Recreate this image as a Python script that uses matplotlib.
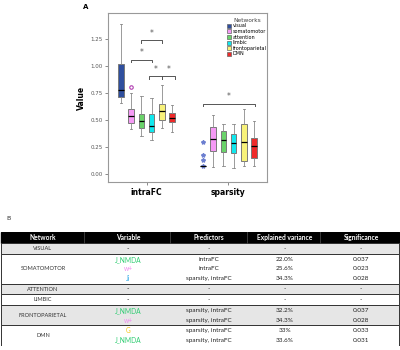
import matplotlib.pyplot as plt
from matplotlib.patches import Patch, Rectangle

networks = ['visual', 'somatomotor', 'attention', 'limbic', 'frontoparietal', 'DMN']
colors = ['#2f4f9e', '#f59af5', '#6ad36a', '#10e8ee', '#f8f27a', '#ee2a2a']
groups = ['intraFC', 'sparsity']

# box stats: whisker low, q1, median, q3, whisker high
intra_lo = [0.66, 0.42, 0.355, 0.31, 0.43, 0.385]
intra_q1 = [0.713, 0.475, 0.423, 0.392, 0.497, 0.481]
intra_med = [0.775, 0.537, 0.494, 0.448, 0.586, 0.515]
intra_q3 = [1.015, 0.605, 0.559, 0.559, 0.651, 0.568]
intra_hi = [1.39, 0.753, 0.722, 0.70, 0.827, 0.642]
intra_out = [[], [0.805], [], [], [], []]

spars_lo = [0.077, 0.065, 0.071, 0.059, 0.074, 0.071]
spars_q1 = [0.077, 0.216, 0.204, 0.194, 0.12, 0.148]
spars_med = [0.077, 0.327, 0.312, 0.29, 0.30, 0.256]
spars_q3 = [0.077, 0.435, 0.395, 0.373, 0.46, 0.33]
spars_hi = [0.077, 0.549, 0.466, 0.466, 0.605, 0.49]
spars_out = [[0.30, 0.18, 0.127, 0.077], [], [], [], [], []]

# significance brackets: group, left box index, right box index, height
brackets = [(0, 2.0, 4.0, 1.238), (0, 1.0, 3.0, 1.059),
            (0, 2.7, 4.0, 0.904), (0, 4.0, 5.3, 0.904),
            (1, 0.0, 5.1, 0.651)]

# table B
tab_header = ['Network', 'Variable', 'Predictors', 'Explained variance', 'Significance']
tab_network = ['VISUAL', 'SOMATOMOTOR', 'ATTENTION', 'LIMBIC', 'FRONTOPARIETAL', 'DMN']
tab_variable = [['-'], ['J_NMDA', 'w+', 'Ji'], ['-'], ['-'], ['J_NMDA', 'w+'], ['G', 'J_NMDA']]
tab_predictors = [['-'], ['intraFC', 'intraFC', 'sparsity, intraFC'], ['-'], ['-'],
                  ['sparsity, intraFC', 'sparsity, intraFC'],
                  ['sparsity, intraFC', 'sparsity, intraFC']]
tab_variance = [['-'], ['22.0%', '25.6%', '34.3%'], ['-'], ['-'],
                ['32.2%', '34.3%'], ['33%', '33.6%']]
tab_signif = [['-'], ['0.037', '0.023', '0.028'], ['-'], ['-'],
              ['0.037', '0.028'], ['0.033', '0.031']]
tab_shaded = [True, False, True, False, True, False]
var_colors = {'J_NMDA': '#2ecc71', 'w+': '#f08cf0', 'Ji': '#3aaee8', 'G': '#f5c518', '-': '#333333'}

fig = plt.figure(figsize=(4, 3.5), dpi=100)

# ---------------- panel A ----------------
ax = fig.add_axes([0.27, 0.48, 0.3975, 0.483])
step = 0.1244
centers = [1.0, 2.0]
all_stats = [(intra_lo, intra_q1, intra_med, intra_q3, intra_hi, intra_out),
             (spars_lo, spars_q1, spars_med, spars_q3, spars_hi, spars_out)]

for g, (lo, q1, med, q3, hi, out) in enumerate(all_stats):
    for i in range(len(networks)):
        st = dict(whislo=lo[i], q1=q1[i], med=med[i], q3=q3[i], whishi=hi[i], fliers=out[i])
        if g == 0:
            fp = dict(marker='o', markersize=2.5, markerfacecolor='none',
                      markeredgecolor='#b03cb0', markeredgewidth=0.8)
        else:
            fp = dict(marker='*', markersize=3, markerfacecolor='#6c7fd0',
                      markeredgecolor='#6c7fd0', linestyle='none')
        ax.bxp([st], positions=[centers[g] + (i - 2.5) * step], widths=0.068,
               patch_artist=True, showfliers=True,
               boxprops=dict(facecolor=colors[i], edgecolor='#7a7a7a', linewidth=0.7),
               medianprops=dict(color='black', linewidth=0.9),
               whiskerprops=dict(color='#8a8a8a', linewidth=0.6),
               capprops=dict(color='#8a8a8a', linewidth=0.6),
               capwidths=0.03, flierprops=fp, manage_ticks=False)

for g, a, b, h in brackets:
    xa = centers[g] + (a - 2.5) * step
    xb = centers[g] + (b - 2.5) * step
    ax.plot([xa, xa, xb, xb], [h - 0.022, h, h, h - 0.022], color='#555555', lw=0.7)
    ax.text((xa + xb) / 2, h + 0.02, '*', ha='center', va='bottom', fontsize=5.5, color='#555555')
# middle tick of the joined bracket
ax.plot([centers[0] + 1.5 * step] * 2, [0.904, 0.882], color='#555555', lw=0.7)

ax.set_xlim(0.53, 2.47)
ax.set_ylim(-0.074, 1.49)
ax.set_xticks(centers)
ax.set_xticklabels(groups, fontsize=5.5, fontweight='bold')
ax.set_yticks([0, 0.25, 0.5, 0.75, 1.0, 1.25])
ax.set_yticklabels(['0.00', '0.25', '0.50', '0.75', '1.00', '1.25'], fontsize=4, color='#555555')
ax.tick_params(length=2.5, width=0.6, color='#777777', pad=1.5)
ax.set_ylabel('Value', fontsize=5.5, fontweight='bold', labelpad=3)
for s in ax.spines.values():
    s.set_color('#999999')
    s.set_linewidth(0.8)

handles = [Patch(facecolor=c, edgecolor='#666666', linewidth=0.5) for c in colors]
leg = ax.legend(handles, networks, title='Networks', loc='upper left',
                bbox_to_anchor=(224 / 400, 1 - 15 / 350), bbox_transform=fig.transFigure,
                frameon=False, fontsize=3.5, title_fontsize=4.2,
                handlelength=0.9, handleheight=0.9, handletextpad=0.35,
                labelspacing=0.12, borderpad=0.1)
leg.get_title().set_color('#444444')

fig.text(83 / 400, 1 - 7 / 350, 'A', fontsize=5, fontweight='bold', va='center')
fig.text(6 / 400, 1 - 218 / 350, 'B', fontsize=4.5, va='center', color='#333333')

# ---------------- panel B ----------------
tx = fig.add_axes([0.0, 0.0126, 1.0, 0.3237])
row_h = [10.8 + 9.5 * (len(v) - 1) for v in tab_variable]
head_h = 11.0
total = head_h + sum(row_h)
tx.set_xlim(0, 400)
tx.set_ylim(total, 0)
tx.axis('off')

col_x = [43, 128, 209, 285, 361]
font = 'Lato'

tx.add_patch(Rectangle((1, 0), 398, head_h, facecolor='black', edgecolor='black'))
for xs in [84, 170, 247, 320]:
    tx.plot([xs, xs], [0, head_h], color='#444444', lw=0.6)
for cx, t in zip(col_x, tab_header):
    tx.text(cx, head_h / 2, t, color='white', fontsize=4.8, fontweight='bold',
            ha='center', va='center', family=font)

y = head_h
for r in range(len(tab_network)):
    h = row_h[r]
    fc = '#e6e6e6' if tab_shaded[r] else 'white'
    tx.add_patch(Rectangle((1, y), 398, h, facecolor=fc, edgecolor='#333333', linewidth=0.7))
    tx.text(col_x[0], y + h / 2, tab_network[r], fontsize=4.1, color='#333333',
            ha='center', va='center', family=font)
    for k in range(len(tab_variable[r])):
        yy = y + 0.65 + 9.5 * (k + 0.5)
        v = tab_variable[r][k]
        tx.text(col_x[1], yy, v, fontsize=4.8, color=var_colors[v],
                ha='center', va='center', family=font)
        for c, col in zip(col_x[2:], [tab_predictors, tab_variance, tab_signif]):
            tx.text(c, yy, col[r][k], fontsize=4.6, color='#222222',
                    ha='center', va='center', family=font)
    y += h

fig.savefig('out.png', dpi=100)
